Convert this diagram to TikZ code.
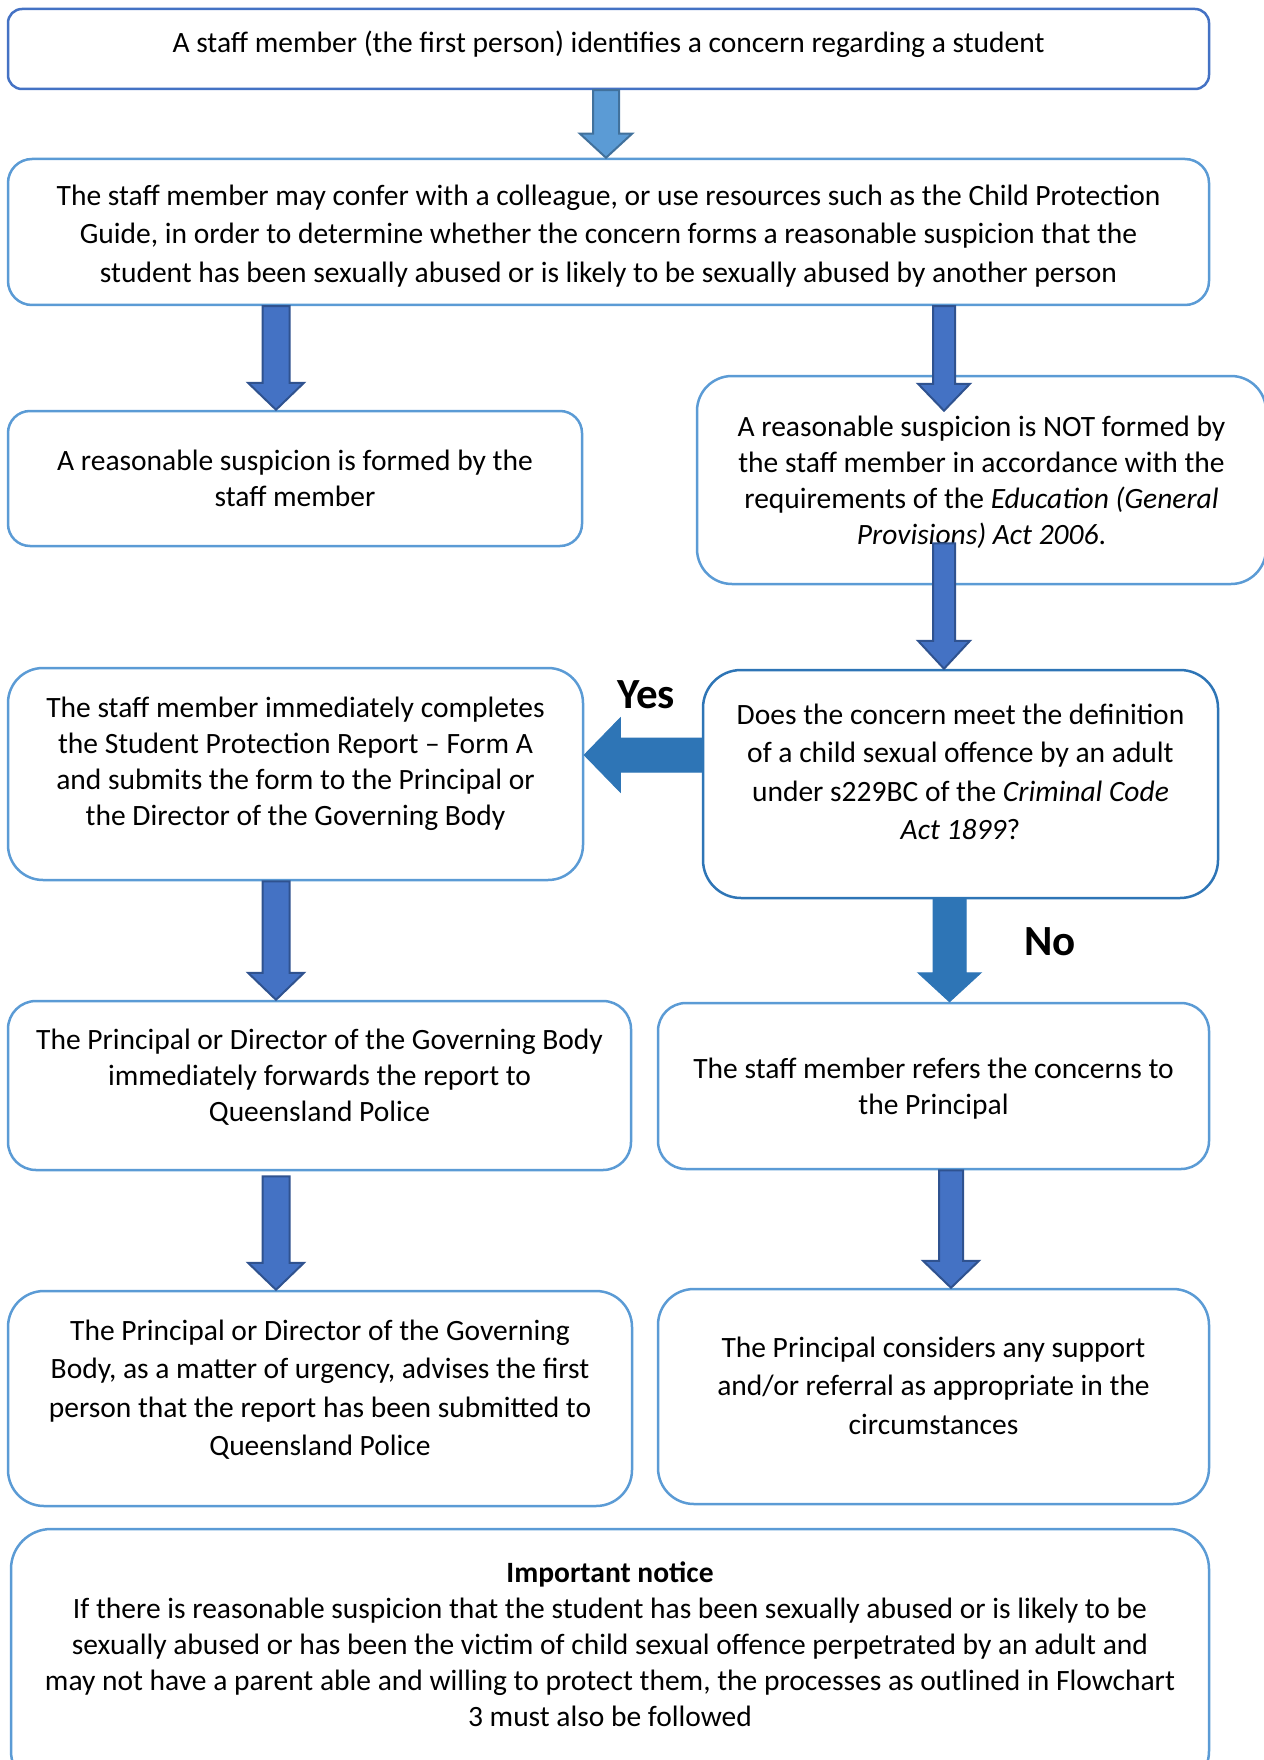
\documentclass[tikz,border=0pt]{standalone}
\usepackage{fontspec}
\setmainfont{Carlito}
\usetikzlibrary{calc}

\definecolor{topline}{HTML}{4472C4}
\definecolor{boxline}{HTML}{5B9BD5}
\definecolor{decline}{HTML}{2E75B6}
\definecolor{arrfill}{HTML}{4472C4}
\definecolor{arredge}{HTML}{2F528F}
\definecolor{lightfill}{HTML}{5B9BD5}
\definecolor{lightedge}{HTML}{41719C}

\tikzset{
  box/.style={draw=boxline, line width=2.5pt, inner sep=0pt},
  txt/.style={align=center, inner sep=0pt, font=\fontsize{29.5}{36}\selectfont},
  txtwide/.style={txt, font=\fontsize{29.5}{38.5}\selectfont},
  arr/.style={fill=arrfill, draw=arredge, line width=2pt},
  lightarr/.style={fill=lightfill, draw=lightedge, line width=2pt},
  decarr/.style={fill=decline, draw=decline, line width=1pt},
  answer/.style={inner sep=0pt, font=\fontsize{43}{50}\selectfont\bfseries},
}

% block arrows: style, start, tip, shaft half width, head half width, head length
\newcommand{\blkdown}[6]{%
  \draw[#1] ($(#2)+(-#4,0)$) -- ($(#2)+(#4,0)$) -- ($(#3)+(#4,-#6)$) -- ($(#3)+(#5,-#6)$)
    -- (#3) -- ($(#3)+(-#5,-#6)$) -- ($(#3)+(-#4,-#6)$) -- cycle;}
\newcommand{\blkleft}[6]{%
  \draw[#1] ($(#2)+(0,-#4)$) -- ($(#2)+(0,#4)$) -- ($(#3)+(#6,#4)$) -- ($(#3)+(#6,#5)$)
    -- (#3) -- ($(#3)+(#6,-#5)$) -- ($(#3)+(#6,-#4)$) -- cycle;}

\begin{document}
\begin{tikzpicture}[x=1pt, y=-1pt]
    \useasboundingbox (0,0) rectangle (1263,1760);

    % Boxes
    \node[box, draw=topline, minimum width=1201pt, minimum height=80pt, rounded corners=14pt,
          label={[txt, yshift=5pt]center:{A staff member (the first person) identifies a concern regarding a student}}]
          (b1) at (608.5,49) {};
    \node[box, minimum width=1201pt, minimum height=146pt, rounded corners=24pt,
          label={[txtwide, yshift=-4pt]center:{The staff member may confer with a colleague, or use resources such as the Child Protection\\
          Guide, in order to determine whether the concern forms a reasonable suspicion that the\\
          student has been sexually abused or is likely to be sexually abused by another person}}]
          (b2) at (608.5,232) {};
    \node[box, minimum width=574pt, minimum height=135pt, rounded corners=22pt,
          label={[txt]center:{A reasonable suspicion is formed by the\\ staff member}}]
          (b3) at (295,478.5) {};
    \node[box, minimum width=569pt, minimum height=208pt, rounded corners=35pt,
          label={[txt, yshift=-2pt]center:{A reasonable suspicion is NOT formed by\\ the staff member in accordance with the\\
          requirements of the \textit{Education (General}\\ \textit{Provisions) Act 2006}.}}]
          (b4) at (981.5,480) {};
    \node[box, minimum width=575pt, minimum height=212pt, rounded corners=35pt,
          label={[txt, yshift=10pt]center:{The staff member immediately completes\\ the Student Protection Report – Form A\\
          and submits the form to the Principal or\\ the Director of the Governing Body}}]
          (b5) at (295.5,774) {};
    \node[box, draw=decline, minimum width=515pt, minimum height=228pt, rounded corners=38pt,
          label={[txtwide, yshift=12pt]center:{Does the concern meet the definition\\ of a child sexual offence by an adult\\
          under s229BC of the \textit{Criminal Code}\\ \textit{Act 1899}?}}]
          (b6) at (960.5,784) {};
    \node[box, minimum width=623pt, minimum height=169pt, rounded corners=28pt,
          label={[txt, yshift=8pt]center:{The Principal or Director of the Governing Body\\ immediately forwards the report to\\ Queensland Police}}]
          (b7) at (319.5,1085.5) {};
    \node[box, minimum width=551pt, minimum height=166pt, rounded corners=28pt,
          label={[txt, yshift=-3pt]center:{The staff member refers the concerns to\\ the Principal}}]
          (b8) at (933.5,1086) {};
    \node[box, minimum width=624pt, minimum height=215pt, rounded corners=36pt,
          label={[txtwide, yshift=9pt]center:{The Principal or Director of the Governing\\ Body, as a matter of urgency, advises the first\\
          person that the report has been submitted to\\ Queensland Police}}]
          (b9) at (320,1398.5) {};
    \node[box, minimum width=551pt, minimum height=215pt, rounded corners=36pt,
          label={[txtwide, yshift=11pt]center:{The Principal considers any support\\ and/or referral as appropriate in the\\ circumstances}}]
          (b10) at (933.5,1396.5) {};
    \node[box, minimum width=1198pt, minimum height=262pt, rounded corners=40pt,
          label={[txt, yshift=16pt]center:{\textbf{Important notice}\\
          If there is reasonable suspicion that the student has been sexually abused or is likely to be\\
          sexually abused or has been the victim of child sexual offence perpetrated by an adult and\\
          may not have a parent able and willing to protect them, the processes as outlined in Flowchart\\
          3 must also be followed}}]
          (b11) at (610,1660) {};

    % Answers
    \node[answer] (yes) at (646,695) {Yes};
    \node[answer] (no) at (1050,942) {No};

    % Arrow columns
    \coordinate (cT) at (606,0);
    \coordinate (cL) at (276,0);
    \coordinate (cR) at (944,0);
    \coordinate (cN) at (949.5,0);
    \coordinate (cM) at (951,0);
    \coordinate (cY) at (0,755);

    % Vertical arrows
    \blkdown{lightarr}{b1.south -| cT}{b2.north -| cT}{13}{26}{24}
    \blkdown{arr}{b2.south -| cL}{b3.north -| cL}{13.5}{28}{27}
    \blkdown{arr}{b2.south -| cR}{$(b4.north -| cR)+(0,36)$}{11}{26}{27}
    \blkdown{arr}{$(b4.south -| cR)+(0,-42)$}{b6.north -| cR}{11}{26}{28}
    \blkdown{arr}{b5.south -| cL}{b7.north -| cL}{13.5}{28}{27}
    \blkdown{arr}{$(b7.south -| cL)+(0,5)$}{b9.north -| cL}{13.5}{28}{27}
    \blkdown{arr}{b8.south -| cM}{b10.north -| cM}{12}{28}{27}
    \blkdown{decarr}{b6.south -| cN}{b8.north -| cN}{16.5}{31.5}{29}

    % Horizontal arrow
    \blkleft{decarr}{b6.west |- cY}{b5.east |- cY}{17}{37}{36}

\end{tikzpicture}
\end{document}
